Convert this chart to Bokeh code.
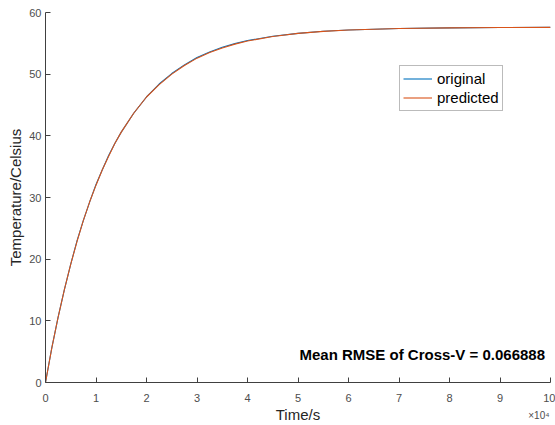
from bokeh.plotting import figure
from bokeh.models import Range1d, FixedTicker, Legend, LegendItem, Label, LinearAxis
from bokeh.embed import file_html
from bokeh.resources import INLINE

# time in seconds
time_s = [0, 1250, 2500, 3750, 5000, 6250, 7500, 8750, 10000, 11250, 12500, 13750,
          15000, 17500, 20000, 22500, 25000, 27500, 30000, 32500, 35000, 37500,
          40000, 45000, 50000, 55000, 60000, 70000, 80000, 90000, 100000]
original = [0, 5.6, 10.6, 15.1, 19.2, 23.0, 26.3, 29.3, 32.1, 34.5, 36.8, 38.8,
            40.6, 43.7, 46.3, 48.4, 50.1, 51.5, 52.7, 53.6, 54.35, 54.95,
            55.45, 56.15, 56.62, 56.95, 57.16, 57.4, 57.51, 57.56, 57.58]
predicted = [0, 5.6, 10.6, 15.1, 19.2, 22.9, 26.3, 29.3, 32.0, 34.5, 36.7, 38.8,
             40.6, 43.7, 46.3, 48.3, 50.0, 51.4, 52.6, 53.5, 54.25, 54.87,
             55.37, 56.12, 56.61, 56.94, 57.16, 57.4, 57.51, 57.56, 57.58]
x_ticks = [0, 10000, 20000, 30000, 40000, 50000, 60000, 70000, 80000, 90000, 100000]
x_tick_labels = ["0", "1", "2", "3", "4", "5", "6", "7", "8", "9", "10"]
y_ticks = [0, 10, 20, 30, 40, 50, 60]
exponent_pos = [97700]
exponent_label = ["×10⁴"]
rmse_text = "Mean RMSE of Cross-V = 0.066888"

FONT = "Liberation Sans"
AX = "#4d4d4d"

p = figure(width=555, height=425, output_backend="svg", toolbar_location=None,
           x_range=Range1d(0, 100000), y_range=Range1d(0, 60),
           min_border_left=45, min_border_right=5, min_border_top=12, min_border_bottom=41)
p.outline_line_color = None
p.grid.visible = False
p.background_fill_color = "white"
p.border_fill_color = "white"

r1 = p.line(time_s, original, line_color="#0072BD", line_width=1.1)
r2 = p.line(time_s, predicted, line_color="#D95319", line_width=1.1)

for ax in (p.xaxis[0], p.yaxis[0]):
    ax.axis_line_color = "#404040"
    ax.major_tick_line_color = "#404040"
    ax.major_tick_in = 5
    ax.major_tick_out = 0
    ax.minor_tick_line_color = None
    ax.major_label_text_font = FONT
    ax.major_label_text_font_size = "11px"
    ax.major_label_text_color = AX
    ax.axis_label_text_font = FONT
    ax.axis_label_text_font_size = "15px"
    ax.axis_label_text_font_style = "normal"
    ax.axis_label_text_color = "#262626"

p.xaxis[0].ticker = FixedTicker(ticks=x_ticks)
p.xaxis[0].major_label_overrides = {t: s for t, s in zip(x_ticks, x_tick_labels)}
p.xaxis[0].major_label_standoff = 11
p.xaxis[0].axis_label = "Time/s"
p.xaxis[0].axis_label_standoff = 1

p.yaxis.ticker = FixedTicker(ticks=y_ticks)
p.yaxis.major_label_standoff = 4
p.yaxis.axis_label = "Temperature/Celsius"
p.yaxis.axis_label_standoff = 2

# exponent marker under the right end of the x axis
exp_axis = LinearAxis(ticker=FixedTicker(ticks=exponent_pos),
                      major_label_overrides={t: s for t, s in zip(exponent_pos, exponent_label)})
exp_axis.axis_line_color = None
exp_axis.major_tick_line_color = None
exp_axis.minor_tick_line_color = None
exp_axis.major_tick_in = 0
exp_axis.major_tick_out = 0
exp_axis.major_label_standoff = -16
exp_axis.major_label_text_font = FONT
exp_axis.major_label_text_font_size = "10px"
exp_axis.major_label_text_color = AX
p.add_layout(exp_axis, "below")

legend = Legend(items=[LegendItem(label="original", renderers=[r1]),
                       LegendItem(label="predicted", renderers=[r2])],
                location=(354, 271))
legend.label_text_font = FONT
legend.label_text_font_size = "15px"
legend.label_text_color = "#000000"
legend.label_height = 19
legend.glyph_height = 19
legend.glyph_width = 29
legend.label_standoff = 5
legend.spacing = 0
legend.padding = 3
legend.margin = 0
legend.border_line_color = "#777777"
legend.border_line_width = 1
legend.background_fill_color = "white"
legend.background_fill_alpha = 1
p.add_layout(legend)

p.add_layout(Label(x=50300, y=4.6, text=rmse_text, text_font=FONT, text_font_size="15px",
                   text_font_style="bold", text_color="#000000", text_align="left",
                   text_baseline="alphabetic"))

open("out.html", "w").write(file_html(p, INLINE))
